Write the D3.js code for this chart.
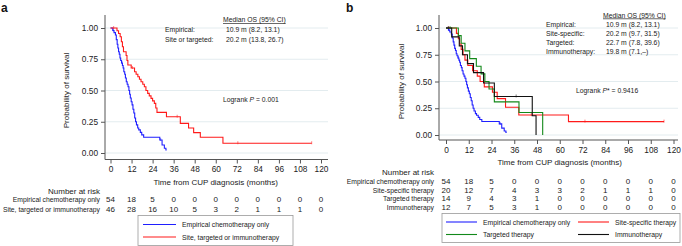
<!DOCTYPE html>
<html>
<head>
<meta charset="utf-8">
<script src="https://d3js.org/d3.v7.min.js"></script>
<style>
  body { margin: 0; background: #fff; }
  svg { font-family: "Liberation Sans", Arial, Helvetica, sans-serif; }
</style>
</head>
<body>
<svg id="mainSvg" width="682" height="246"></svg>
<script>
// ---- data ----
const xTicks = [0, 12, 24, 36, 48, 60, 72, 84, 96, 108, 120];
const yTicks = [0, 0.25, 0.5, 0.75, 1];

// KM step points [months, survival]
const empiricalSteps = [[0,1],[1.3,0.98],[2.0,0.963],[2.8,0.944],[3.3,0.907],[3.8,0.87],[4.2,0.84],[4.6,0.81],[5.0,0.79],[5.4,0.76],[5.8,0.74],[6.3,0.72],[6.8,0.70],[7.2,0.68],[7.6,0.65],[8.1,0.63],[8.5,0.60],[9.0,0.57],[9.5,0.55],[10.0,0.53],[10.5,0.50],[10.9,0.47],[11.3,0.44],[11.8,0.41],[12.3,0.385],[12.8,0.35],[13.3,0.32],[13.8,0.28],[14.3,0.25],[14.8,0.225],[15.5,0.20],[16.1,0.185],[17.0,0.165],[17.8,0.145],[18.9,0.126],[28.1,0.104],[29.4,0.064],[30.7,0.038],[31.6,0.025],[32.0,0.025]];
const empiricalCens = [[1.6,0.98],[6.5,0.72],[28.6,0.104]];

const siteOrTargetedSteps = [[0,1],[3.7,0.978],[4.6,0.956],[5.5,0.93],[6.2,0.89],[6.8,0.85],[7.4,0.81],[8.9,0.78],[9.4,0.74],[9.9,0.704],[11.8,0.68],[13.7,0.65],[14.6,0.63],[15.6,0.61],[16.5,0.59],[17.4,0.57],[18.4,0.55],[19.3,0.53],[20.2,0.50],[21.2,0.477],[22.1,0.457],[23.1,0.437],[24.0,0.417],[25.0,0.397],[25.8,0.36],[26.5,0.325],[31.9,0.29],[39.8,0.237],[44.5,0.20],[47.4,0.163],[51.2,0.126],[64.1,0.078],[114.7,0.078]];
const siteOrTargetedCens = [[1.8,1],[12.5,0.68],[38,0.29],[72.6,0.078],[114.7,0.078]];

const siteSpecificSteps = [[0,1],[5.5,0.95],[6.5,0.90],[7.2,0.85],[8.0,0.80],[9.0,0.75],[10.0,0.70],[11.5,0.65],[14.0,0.60],[16.5,0.55],[18.0,0.50],[20.2,0.45],[24.5,0.40],[27.0,0.34],[31.4,0.26],[38.4,0.187],[64.6,0.125],[115,0.125]];
const siteSpecificCens = [[1.5,1],[45,0.187],[73.3,0.125],[115,0.125]];

const targetedSteps = [[0,1],[6.5,0.929],[8.0,0.857],[10.0,0.786],[12.5,0.714],[16.0,0.643],[18.5,0.571],[20.5,0.50],[22.7,0.43],[25.5,0.31],[38.5,0.21],[51,0]];
const targetedCens = [[2.2,1]];

const immunoSteps = [[0,1],[3.0,0.917],[7.0,0.833],[8.7,0.75],[11.3,0.667],[14.5,0.583],[19.8,0.486],[25.5,0.36],[45.5,0.18],[47.5,0]];
const immunoCens = [[1.2,1],[37,0.36]];

// numbers at risk
const riskEmpirical = [54, 18, 5, 0, 0, 0, 0, 0, 0, 0, 0];
const riskSiteTargetedImmuno = [46, 28, 16, 10, 5, 3, 2, 1, 1, 1, 0];
const riskSiteSpecific = [20, 12, 7, 4, 3, 3, 2, 1, 1, 1, 0];
const riskTargeted = [14, 9, 4, 3, 1, 0, 0, 0, 0, 0, 0];
const riskImmuno = [12, 7, 5, 3, 1, 0, 0, 0, 0, 0, 0];

const BLUE = "#1f1fff", RED = "#ff1a1a", GREEN = "#13891a", BLACK = "#111";

const svg = d3.select("#mainSvg");

function drawPanel(cfg) {
  const g = svg.append("g");
  const x = d3.scaleLinear().domain([0, 120]).range(cfg.xRange);
  const y = d3.scaleLinear().domain([0, 1]).range(cfg.yRange);

  // grid
  g.selectAll(".grid").data(yTicks).join("line")
    .attr("x1", cfg.axisX).attr("x2", cfg.gridRight)
    .attr("y1", d => y(d)).attr("y2", d => y(d))
    .attr("stroke", "#e3ecef").attr("stroke-width", 1);

  // y axis
  const yAxis = g.append("g").attr("transform", `translate(${cfg.axisX},0)`)
    .call(d3.axisLeft(y).tickValues(yTicks).tickFormat(d3.format(".2f")).tickSize(4).tickPadding(3));
  yAxis.select(".domain").attr("d", `M0,${cfg.axisTop}V${cfg.axisY}`);
  yAxis.selectAll("line, .domain").attr("stroke", "#555");
  yAxis.selectAll("text").attr("font-size", 8.3).attr("fill", "#222");

  // x axis
  const xAxis = g.append("g").attr("transform", `translate(0,${cfg.axisY})`)
    .call(d3.axisBottom(x).tickValues(xTicks).tickSize(4).tickPadding(3));
  xAxis.select(".domain").attr("d", `M${cfg.axisX},0H${cfg.gridRight}`);
  xAxis.selectAll("line, .domain").attr("stroke", "#555");
  xAxis.selectAll("text").attr("font-size", 8.3).attr("fill", "#222");

  g.append("text").attr("x", (cfg.xRange[0] + cfg.xRange[1]) / 2).attr("y", cfg.axisY + 25)
    .attr("text-anchor", "middle").attr("font-size", 8).attr("fill", "#222")
    .text("Time from CUP diagnosis (months)");
  g.append("text")
    .attr("transform", `translate(${cfg.yTitleX},${(cfg.yRange[0] + cfg.yRange[1]) / 2}) rotate(-90)`)
    .attr("text-anchor", "middle").attr("font-size", 8).attr("fill", "#222")
    .text("Probability of survival");

  // curves
  const line = d3.line().x(d => x(d[0])).y(d => y(d[1])).curve(d3.curveStepAfter);
  cfg.series.forEach(s => {
    g.append("path").attr("d", line(s.steps)).attr("fill", "none")
      .attr("stroke", s.color).attr("stroke-width", 1.1);
    g.selectAll(null).data(s.cens).join("line")
      .attr("x1", d => x(d[0])).attr("x2", d => x(d[0]))
      .attr("y1", d => y(d[1]) - 2).attr("y2", d => y(d[1]) + 1)
      .attr("stroke", s.color).attr("stroke-opacity", 0.55).attr("stroke-width", 1);
  });

  // number at risk
  const rt = cfg.riskLabelX;
  g.append("text").attr("x", rt).attr("y", cfg.riskTitleY).attr("text-anchor", "end")
    .attr("font-size", 8).attr("fill", "#222").text("Number at risk");
  cfg.risk.forEach((r, i) => {
    const yy = cfg.riskRowsY[i];
    g.append("text").attr("x", rt).attr("y", yy).attr("text-anchor", "end")
      .attr("font-size", 6.8).attr("fill", "#222").text(r.label);
    g.selectAll(null).data(r.values).join("text")
      .attr("x", (d, j) => x(xTicks[j])).attr("y", yy).attr("text-anchor", "middle")
      .attr("font-size", 8).attr("fill", "#222").text(d => d);
  });

  // legend
  const L = cfg.legend;
  g.append("rect").attr("x", L.x).attr("y", L.y).attr("width", L.w).attr("height", L.h)
    .attr("fill", "#fff").attr("stroke", "#999").attr("stroke-width", 0.8);
  L.items.forEach(it => {
    g.append("line").attr("x1", it.x).attr("x2", it.x + L.lineLen)
      .attr("y1", it.y).attr("y2", it.y).attr("stroke", it.color).attr("stroke-width", 1.1);
    g.append("text").attr("x", it.x + L.lineLen + 6).attr("y", it.y + 2.5)
      .attr("font-size", 6.8).attr("fill", "#222").text(it.label);
  });

  // median table
  const M = cfg.median;
  g.append("text").attr("x", M.valX - 3).attr("y", M.titleY).attr("font-size", 6.8)
    .attr("fill", "#222").attr("text-decoration", "underline").text("Median OS (95% CI)");
  M.rows.forEach((r, i) => {
    const yy = M.rowY0 + i * M.rowStep;
    g.append("text").attr("x", M.labelX).attr("y", yy).attr("font-size", 6.8).attr("fill", "#222").text(r[0]);
    g.append("text").attr("x", M.valX).attr("y", yy).attr("font-size", 6.8).attr("fill", "#222").text(r[1]);
  });
  const lr = g.append("text").attr("x", cfg.logrank.x).attr("y", cfg.logrank.y)
    .attr("font-size", 6.8).attr("fill", "#222");
  lr.append("tspan").text("Logrank ");
  lr.append("tspan").attr("font-style", "italic").text("P");
  lr.append("tspan").text(cfg.logrank.text);

  svg.append("text").attr("x", cfg.tag.x).attr("y", 12).attr("font-size", 12)
    .attr("font-weight", "bold").attr("fill", "#111").text(cfg.tag.t);
}

drawPanel({
  tag: { x: 1, t: "a" },
  xRange: [110.5, 321], yRange: [153, 28],
  axisX: 105, axisY: 159.5, axisTop: 15, gridRight: 328, yTitleX: 68.5,
  series: [
    { steps: empiricalSteps, cens: empiricalCens, color: BLUE },
    { steps: siteOrTargetedSteps, cens: siteOrTargetedCens, color: RED }
  ],
  riskLabelX: 100, riskTitleY: 194, riskRowsY: [202, 212],
  risk: [
    { label: "Empirical chemotherapy only", values: riskEmpirical },
    { label: "Site, targeted or immunotherapy", values: riskSiteTargetedImmuno }
  ],
  legend: { x: 138, y: 215.5, w: 155, h: 30, lineLen: 33, items: [
    { x: 143, y: 224.5, color: BLUE, label: "Empirical chemotherapy only" },
    { x: 143, y: 237, color: RED, label: "Site, targeted or immunotherapy" }
  ] },
  median: { titleY: 22, labelX: 165, valX: 226, rowY0: 31.5, rowStep: 10, rows: [
    ["Empirical:", "10.9 m (8.2, 13.1)"],
    ["Site or targeted:", "20.2 m (13.8, 26.7)"]
  ] },
  logrank: { x: 223, y: 101.5, text: " = 0.001" }
});

drawPanel({
  tag: { x: 346, t: "b" },
  xRange: [446, 673.5], yRange: [135, 28],
  axisX: 439, axisY: 140, axisTop: 15, gridRight: 678, yTitleX: 403.5,
  series: [
    { steps: empiricalSteps, cens: empiricalCens, color: BLUE },
    { steps: siteSpecificSteps, cens: siteSpecificCens, color: RED },
    { steps: targetedSteps, cens: targetedCens, color: GREEN },
    { steps: immunoSteps, cens: immunoCens, color: BLACK }
  ],
  riskLabelX: 434, riskTitleY: 175, riskRowsY: [184, 192.5, 201, 209.5],
  risk: [
    { label: "Empirical chemotherapy only", values: riskEmpirical },
    { label: "Site-specific therapy", values: riskSiteSpecific },
    { label: "Targeted therapy", values: riskTargeted },
    { label: "Immunotherapy", values: riskImmuno }
  ],
  legend: { x: 442, y: 213.5, w: 238, h: 29, lineLen: 31, items: [
    { x: 446, y: 222, color: BLUE, label: "Empirical chemotherapy only" },
    { x: 578, y: 222, color: RED, label: "Site-specific therapy" },
    { x: 446, y: 234.5, color: GREEN, label: "Targeted therapy" },
    { x: 578, y: 234.5, color: BLACK, label: "Immunotherapy" }
  ] },
  median: { titleY: 17.5, labelX: 546, valX: 606, rowY0: 26.5, rowStep: 9, rows: [
    ["Empirical:", "10.9 m (8.2, 13.1)"],
    ["Site-specific:", "20.2 m (9.7, 31.5)"],
    ["Targeted:", "22.7 m (7.8, 39.6)"],
    ["Immunotherapy:", "19.8 m (7.1,\u2013)"]
  ] },
  logrank: { x: 576, y: 92.5, text: "* = 0.9416" }
});
</script>
</body>
</html>
